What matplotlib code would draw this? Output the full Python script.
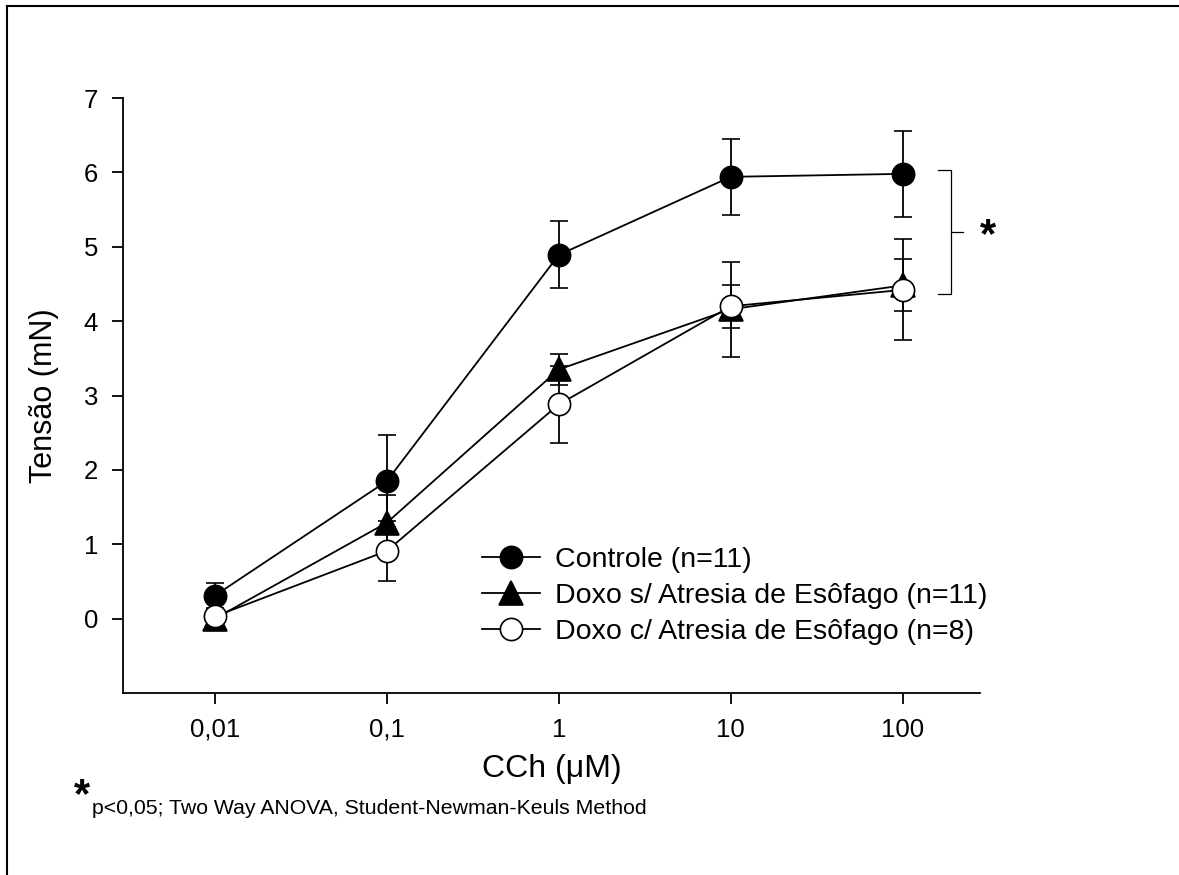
import matplotlib.pyplot as plt
import numpy as np
from matplotlib.lines import Line2D
import matplotlib.transforms as mtransforms

plt.rcParams['font.family'] = ['Liberation Sans', 'DejaVu Sans']

# data
conc = [0.01, 0.1, 1, 10, 100]
conc_labels = ['0,01', '0,1', '1', '10', '100']

controle = [0.31, 1.85, 4.89, 5.94, 5.98]
controle_err = [0.17, 0.62, 0.45, 0.51, 0.58]

doxo_s = [0.0, 1.29, 3.35, 4.16, 4.48]
doxo_s_err = [0.04, 0.37, 0.21, 0.64, 0.35]

doxo_c = [0.03, 0.91, 2.88, 4.20, 4.42]
doxo_c_err = [0.05, 0.40, 0.52, 0.29, 0.68]

labels = ['Controle (n=11)',
          'Doxo s/ Atresia de Esôfago (n=11)',
          'Doxo c/ Atresia de Esôfago (n=8)']

fig = plt.figure(figsize=(11.79, 8.75), dpi=100)
ax = fig.add_axes([0.1043, 0.208, 0.7269, 0.680])

styles = [dict(marker='o', mfc='black', ms=16),
          dict(marker='^', mfc='black', ms=17),
          dict(marker='o', mfc='white', ms=16)]
handles = []
for y, e, st in zip([controle, doxo_s, doxo_c],
                    [controle_err, doxo_s_err, doxo_c_err], styles):
    c = ax.errorbar(conc, y, yerr=e, color='black', lw=1.3, elinewidth=1.3,
                    capsize=6.5, capthick=1.3, mec='black', mew=1.2, **st)
    handles.append(c[0])

ax.set_xscale('log')
ax.set_xlim(10 ** -2.535, 10 ** 2.45)
ax.set_ylim(-1, 7)
ax.set_xticks(conc)
ax.set_xticklabels(conc_labels)
ax.minorticks_off()
ax.set_yticks(range(0, 8))
ax.tick_params(direction='out', length=8, width=1.3, labelsize=18.5, pad=10)
ax.spines['top'].set_visible(False)
ax.spines['right'].set_visible(False)
for s in ['left', 'bottom']:
    ax.spines[s].set_linewidth(1.3)

ax.set_ylabel('Tensão (mN)', fontsize=22, labelpad=18)
ax.set_xlabel('CCh (\u03bcM)', fontsize=23, labelpad=9)

ax.legend(handles, labels, loc='upper left', bbox_to_anchor=(0.419, 0.246),
          frameon=False, fontsize=20.5, handlelength=2.05, handletextpad=0.5,
          labelspacing=0.36, borderpad=0, borderaxespad=0)

# significance bracket
tr = mtransforms.blended_transform_factory(ax.transAxes, ax.transData)
top, bot = 6.03, 4.37
mid = (top + bot) / 2
ax.plot([0.951, 0.966, 0.966, 0.951], [top, top, bot, bot], color='black',
        lw=0.9, transform=tr, clip_on=False)
ax.plot([0.966, 0.980], [mid, mid], color='black', lw=0.9, transform=tr,
        clip_on=False)
ax.text(1.0, mid - 0.05, '*', fontsize=30, fontweight='bold', transform=tr,
        ha='left', va='center', clip_on=False)

# footnote
fig.text(82 / 1179, 1 - 796 / 875, '*', fontsize=30, fontweight='bold',
         ha='center', va='center')
fig.text(92 / 1179, 1 - 808 / 875, 'p<0,05; Two Way ANOVA, Student-Newman-Keuls Method',
         fontsize=15.3, ha='left', va='center')

# outer frame
fig.add_artist(Line2D([7 / 1179, 1], [1 - 6 / 875, 1 - 6 / 875], color='black', lw=1.5))
fig.add_artist(Line2D([7 / 1179, 7 / 1179], [0, 1 - 6 / 875], color='black', lw=1.5))

fig.savefig('out.png', dpi=100)
